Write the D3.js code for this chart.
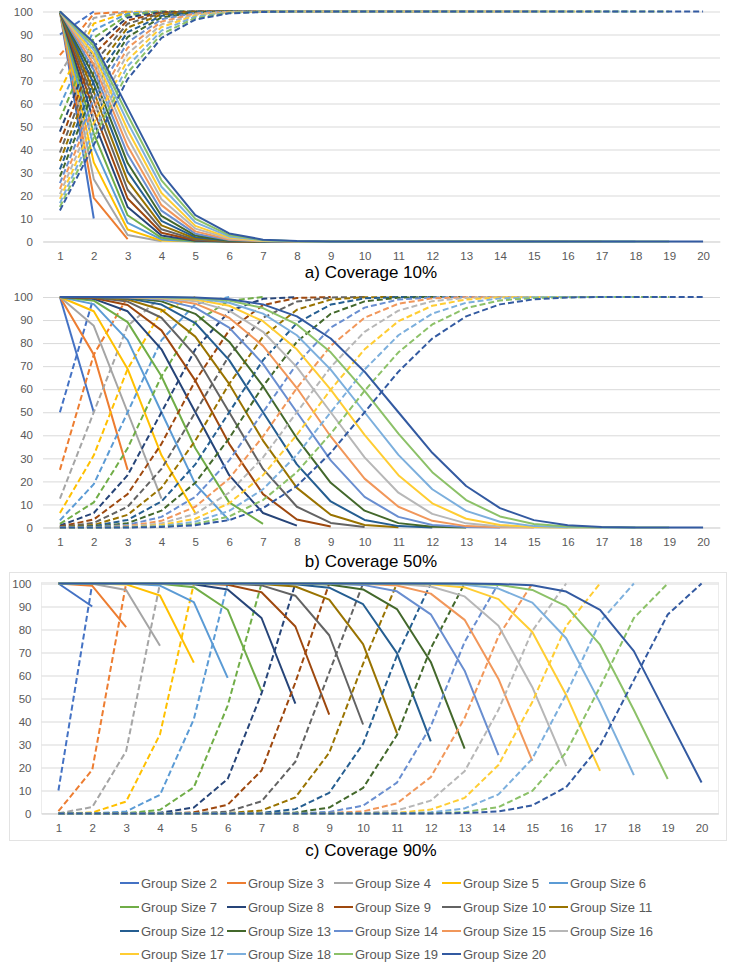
<!DOCTYPE html>
<html>
<head>
<meta charset="utf-8">
<script src="https://cdn.jsdelivr.net/npm/d3@7"></script>
<style>
  body { margin: 0; background: #fff; }
  text { font-family: 'Liberation Sans', Arial, sans-serif; }
</style>
</head>
<body>
<svg></svg>
<script>
const width = 743;
const height = 967;

/* chart data */
const categories = [1,2,3,4,5,6,7,8,9,10,11,12,13,14,15,16,17,18,19,20];
const yTicks = [0,10,20,30,40,50,60,70,80,90,100];
const groupSizes = [2,3,4,5,6,7,8,9,10,11,12,13,14,15,16,17,18,19,20];
const seriesColors = ['#4472C4','#ED7D31','#A5A5A5','#FFC000','#5B9BD5','#70AD47','#264478','#9E480E','#636363','#997300',
                      '#255E91','#43682B','#698ED0','#F1975A','#B7B7B7','#FFCD33','#7CAFDD','#8CC168','#335AA1'];

/* a) coverage 10% */
const cov10Solid = [
  [100,10],
  [100,19,1],
  [100,27.1,2.8,0.1],
  [100,34.4,5.2,0.4,0],
  [100,41,8.1,0.9,0,0],
  [100,46.9,11.4,1.6,0.1,0,0],
  [100,52.2,15,2.6,0.3,0,0,0],
  [100,57,18.7,3.8,0.5,0,0,0,0],
  [100,61.3,22.5,5.3,0.8,0.1,0,0,0,0],
  [100,65.1,26.4,7,1.3,0.2,0,0,0,0,0],
  [100,68.6,30.3,9,1.9,0.3,0,0,0,0,0,0],
  [100,71.8,34.1,11.1,2.6,0.4,0.1,0,0,0,0,0,0],
  [100,74.6,37.9,13.4,3.4,0.6,0.1,0,0,0,0,0,0,0],
  [100,77.1,41.5,15.8,4.4,0.9,0.2,0,0,0,0,0,0,0,0],
  [100,79.4,45.1,18.4,5.6,1.3,0.2,0,0,0,0,0,0,0,0,0],
  [100,81.5,48.5,21.1,6.8,1.7,0.3,0.1,0,0,0,0,0,0,0,0,0],
  [100,83.3,51.8,23.8,8.3,2.2,0.5,0.1,0,0,0,0,0,0,0,0,0,0],
  [100,85,55,26.6,9.8,2.8,0.6,0.1,0,0,0,0,0,0,0,0,0,0,0],
  [100,86.5,58,29.5,11.5,3.5,0.8,0.2,0,0,0,0,0,0,0,0,0,0,0,0]
];
const cov10Dashed = [
  [90,100],
  [81,99,100],
  [72.9,97.2,99.9,100],
  [65.6,94.8,99.6,100,100],
  [59,91.9,99.1,100,100,100],
  [53.1,88.6,98.4,99.9,100,100,100],
  [47.8,85,97.4,99.7,100,100,100,100],
  [43,81.3,96.2,99.5,100,100,100,100,100],
  [38.7,77.5,94.7,99.2,99.9,100,100,100,100,100],
  [34.9,73.6,93,98.7,99.8,100,100,100,100,100,100],
  [31.4,69.7,91,98.1,99.7,100,100,100,100,100,100,100],
  [28.2,65.9,88.9,97.4,99.6,99.9,100,100,100,100,100,100,100],
  [25.4,62.1,86.6,96.6,99.4,99.9,100,100,100,100,100,100,100,100],
  [22.9,58.5,84.2,95.6,99.1,99.8,100,100,100,100,100,100,100,100,100],
  [20.6,54.9,81.6,94.4,98.7,99.8,100,100,100,100,100,100,100,100,100,100],
  [18.5,51.5,78.9,93.2,98.3,99.7,99.9,100,100,100,100,100,100,100,100,100,100],
  [16.7,48.2,76.2,91.7,97.8,99.5,99.9,100,100,100,100,100,100,100,100,100,100,100],
  [15,45,73.4,90.2,97.2,99.4,99.9,100,100,100,100,100,100,100,100,100,100,100,100],
  [13.5,42,70.6,88.5,96.5,99.2,99.8,100,100,100,100,100,100,100,100,100,100,100,100,100]
];

/* b) coverage 50% */
const cov50Solid = [
  [100,50],
  [100,75,25],
  [100,87.5,50,12.5],
  [100,93.8,68.8,31.3,6.3],
  [100,96.9,81.3,50,18.8,3.1],
  [100,98.4,89.1,65.6,34.4,10.9,1.6],
  [100,99.2,93.8,77.3,50,22.7,6.3,0.8],
  [100,99.6,96.5,85.5,63.7,36.3,14.5,3.5,0.4],
  [100,99.8,98,91,74.6,50,25.4,9,2,0.2],
  [100,99.9,98.9,94.5,82.8,62.3,37.7,17.2,5.5,1.1,0.1],
  [100,100,99.4,96.7,88.7,72.6,50,27.4,11.3,3.3,0.6,0],
  [100,100,99.7,98.1,92.7,80.6,61.3,38.7,19.4,7.3,1.9,0.3,0],
  [100,100,99.8,98.9,95.4,86.7,71,50,29.1,13.3,4.6,1.1,0.2,0],
  [100,100,99.9,99.4,97.1,91,78.8,60.5,39.5,21.2,9,2.9,0.6,0.1,0],
  [100,100,100,99.6,98.2,94.1,84.9,69.6,50,30.4,15.1,5.9,1.8,0.4,0.1,0],
  [100,100,100,99.8,98.9,96.2,89.5,77.3,59.8,40.2,22.7,10.5,3.8,1.1,0.2,0,0],
  [100,100,100,99.9,99.4,97.5,92.8,83.4,68.5,50,31.5,16.6,7.2,2.5,0.6,0.1,0,0],
  [100,100,100,99.9,99.6,98.5,95.2,88.1,76,59.3,40.7,24,11.9,4.8,1.5,0.4,0.1,0,0],
  [100,100,100,100,99.8,99,96.8,91.6,82,67.6,50,32.4,18,8.4,3.2,1,0.2,0,0,0]
];
const cov50Dashed = [
  [50,100],
  [25,75,100],
  [12.5,50,87.5,100],
  [6.3,31.3,68.8,93.8,100],
  [3.1,18.8,50,81.3,96.9,100],
  [1.6,10.9,34.4,65.6,89.1,98.4,100],
  [0.8,6.3,22.7,50,77.3,93.8,99.2,100],
  [0.4,3.5,14.5,36.3,63.7,85.5,96.5,99.6,100],
  [0.2,2,9,25.4,50,74.6,91,98,99.8,100],
  [0.1,1.1,5.5,17.2,37.7,62.3,82.8,94.5,98.9,99.9,100],
  [0,0.6,3.3,11.3,27.4,50,72.6,88.7,96.7,99.4,100,100],
  [0,0.3,1.9,7.3,19.4,38.7,61.3,80.6,92.7,98.1,99.7,100,100],
  [0,0.2,1.1,4.6,13.3,29.1,50,71,86.7,95.4,98.9,99.8,100,100],
  [0,0.1,0.6,2.9,9,21.2,39.5,60.5,78.8,91,97.1,99.4,99.9,100,100],
  [0,0.1,0.4,1.8,5.9,15.1,30.4,50,69.6,84.9,94.1,98.2,99.6,100,100,100],
  [0,0,0.2,1.1,3.8,10.5,22.7,40.2,59.8,77.3,89.5,96.2,98.9,99.8,100,100,100],
  [0,0,0.1,0.6,2.5,7.2,16.6,31.5,50,68.5,83.4,92.8,97.5,99.4,99.9,100,100,100],
  [0,0,0.1,0.4,1.5,4.8,11.9,24,40.7,59.3,76,88.1,95.2,98.5,99.6,99.9,100,100,100],
  [0,0,0,0.2,1,3.2,8.4,18,32.4,50,67.6,82,91.6,96.8,99,99.8,100,100,100,100]
];

/* c) coverage 90% */
const cov90Solid = [
  [100,90],
  [100,99,81],
  [100,99.9,97.2,72.9],
  [100,100,99.6,94.8,65.6],
  [100,100,100,99.1,91.9,59],
  [100,100,100,99.9,98.4,88.6,53.1],
  [100,100,100,100,99.7,97.4,85,47.8],
  [100,100,100,100,100,99.5,96.2,81.3,43],
  [100,100,100,100,100,99.9,99.2,94.7,77.5,38.7],
  [100,100,100,100,100,100,99.8,98.7,93,73.6,34.9],
  [100,100,100,100,100,100,100,99.7,98.2,91,69.7,31.4],
  [100,100,100,100,100,100,100,100,99.6,97.4,88.9,65.9,28.2],
  [100,100,100,100,100,100,100,100,99.9,99.4,96.6,86.6,62.1,25.4],
  [100,100,100,100,100,100,100,100,100,99.9,99.1,95.6,84.2,58.5,22.9],
  [100,100,100,100,100,100,100,100,100,100,99.8,98.7,94.4,81.6,54.9,20.6],
  [100,100,100,100,100,100,100,100,100,100,100,99.7,98.3,93.2,78.9,51.5,18.5],
  [100,100,100,100,100,100,100,100,100,100,100,99.9,99.5,97.8,91.7,76.2,48.2,16.7],
  [100,100,100,100,100,100,100,100,100,100,100,100,99.9,99.4,97.2,90.2,73.4,45,15],
  [100,100,100,100,100,100,100,100,100,100,100,100,100,99.8,99.2,96.5,88.5,70.6,42,13.5]
];
const cov90Dashed = [
  [10,100],
  [1,19,100],
  [0.1,2.8,27.1,100],
  [0,0.4,5.2,34.4,100],
  [0,0,0.9,8.1,41,100],
  [0,0,0.1,1.6,11.4,46.9,100],
  [0,0,0,0.3,2.6,15,52.2,100],
  [0,0,0,0,0.5,3.8,18.7,57,100],
  [0,0,0,0,0.1,0.8,5.3,22.5,61.3,100],
  [0,0,0,0,0,0.2,1.3,7,26.4,65.1,100],
  [0,0,0,0,0,0,0.3,1.9,9,30.3,68.6,100],
  [0,0,0,0,0,0,0.1,0.4,2.6,11.1,34.1,71.8,100],
  [0,0,0,0,0,0,0,0.1,0.7,3.4,13.4,37.9,74.6,100],
  [0,0,0,0,0,0,0,0,0.2,0.9,4.4,15.8,41.5,77.1,100],
  [0,0,0,0,0,0,0,0,0,0.2,1.3,5.6,18.4,45.1,79.4,100],
  [0,0,0,0,0,0,0,0,0,0.1,0.3,1.7,6.8,21.1,48.5,81.5,100],
  [0,0,0,0,0,0,0,0,0,0,0.1,0.5,2.2,8.3,23.8,51.8,83.3,100],
  [0,0,0,0,0,0,0,0,0,0,0,0.1,0.6,2.8,9.8,26.6,55,85,100],
  [0,0,0,0,0,0,0,0,0,0,0,0,0.2,0.9,3.5,11.5,29.5,58,86.5,100]
];

/* panel layout */
const panels = [
  { solid: cov10Solid, dashed: cov10Dashed, title: 'a) Coverage 10%', left: 43, right: 720, top: 11.5, bottom: 241.5, titleY: 272 },
  { solid: cov50Solid, dashed: cov50Dashed, title: 'b) Coverage 50%', left: 43, right: 720, top: 297, bottom: 527.5, titleY: 561 },
  { solid: cov90Solid, dashed: cov90Dashed, title: 'c) Coverage 90%', left: 41.5, right: 718.5, top: 583.5, bottom: 813.5, titleY: 850, framed: true }
];

const svg = d3.select('svg')
  .attr('width', width)
  .attr('height', height);

const gridColor = '#D9D9D9';
const labelColor = '#595959';

panels.forEach(p => {
  const g = svg.append('g');

  /* chart frame for the last panel */
  if (p.framed) {
    g.append('rect')
      .attr('x', 9.5).attr('y', 572.5)
      .attr('width', 717).attr('height', 268)
      .attr('fill', 'none')
      .attr('stroke', '#E3E3E3');
    g.append('rect')
      .attr('x', p.left).attr('y', p.top - 1)
      .attr('width', p.right - p.left).attr('height', p.bottom - p.top + 1)
      .attr('fill', 'none')
      .attr('stroke', gridColor)
      .attr('stroke-dasharray', '1,1');
  }

  const xScale = d3.scalePoint()
    .domain(categories)
    .range([p.left, p.right])
    .padding(0.5);

  const yScale = d3.scaleLinear()
    .domain([0, 100])
    .range([p.bottom, p.top]);

  /* y axis with gridlines */
  const yAxis = d3.axisLeft(yScale)
    .tickValues(yTicks)
    .tickSize(-(p.right - p.left))
    .tickPadding(10);

  g.append('g')
    .attr('transform', `translate(${p.left},0)`)
    .call(yAxis)
    .call(a => a.select('.domain').remove())
    .call(a => a.selectAll('line').attr('stroke', gridColor))
    .call(a => a.selectAll('text')
      .attr('fill', labelColor)
      .style('font-size', '11.5px')
      .style('font-family', "'Liberation Sans', Arial, sans-serif"));

  /* x axis */
  const xAxis = d3.axisBottom(xScale)
    .tickSize(0)
    .tickPadding(10);

  g.append('g')
    .attr('transform', `translate(0,${p.bottom})`)
    .call(xAxis)
    .call(a => a.select('.domain').attr('stroke', gridColor))
    .call(a => a.selectAll('text')
      .attr('fill', labelColor)
      .style('font-size', '11.5px')
      .style('font-family', "'Liberation Sans', Arial, sans-serif"));

  const line = d3.line()
    .x((d, i) => xScale(categories[i]))
    .y(d => yScale(d));

  /* series: solid and dashed per group size */
  groupSizes.forEach((size, i) => {
    g.append('path')
      .datum(p.solid[i])
      .attr('d', line)
      .attr('fill', 'none')
      .attr('stroke', seriesColors[i])
      .attr('stroke-width', 2)
      .attr('stroke-linejoin', 'round');
    g.append('path')
      .datum(p.dashed[i])
      .attr('d', line)
      .attr('fill', 'none')
      .attr('stroke', seriesColors[i])
      .attr('stroke-width', 2)
      .attr('stroke-dasharray', '6,3')
      .attr('stroke-linejoin', 'round');
  });

  /* panel title */
  svg.append('text')
    .attr('x', 371)
    .attr('y', p.titleY)
    .attr('text-anchor', 'middle')
    .attr('dominant-baseline', 'central')
    .style('font-size', '17px')
    .attr('fill', '#000')
    .text(p.title);
});

/* legend */
const legendCols = [120, 227, 334, 442, 549];
const legendRows = [883, 907, 931, 954];
const legend = svg.append('g');

groupSizes.forEach((size, i) => {
  const lx = legendCols[i % 5];
  const ly = legendRows[Math.floor(i / 5)];
  legend.append('line')
    .attr('x1', lx).attr('x2', lx + 19)
    .attr('y1', ly).attr('y2', ly)
    .attr('stroke', seriesColors[i])
    .attr('stroke-width', 2);
  legend.append('text')
    .attr('x', lx + 21)
    .attr('y', ly)
    .attr('dominant-baseline', 'central')
    .attr('fill', labelColor)
    .style('font-size', '13px')
    .text(`Group Size ${size}`);
});
</script>
</body>
</html>
